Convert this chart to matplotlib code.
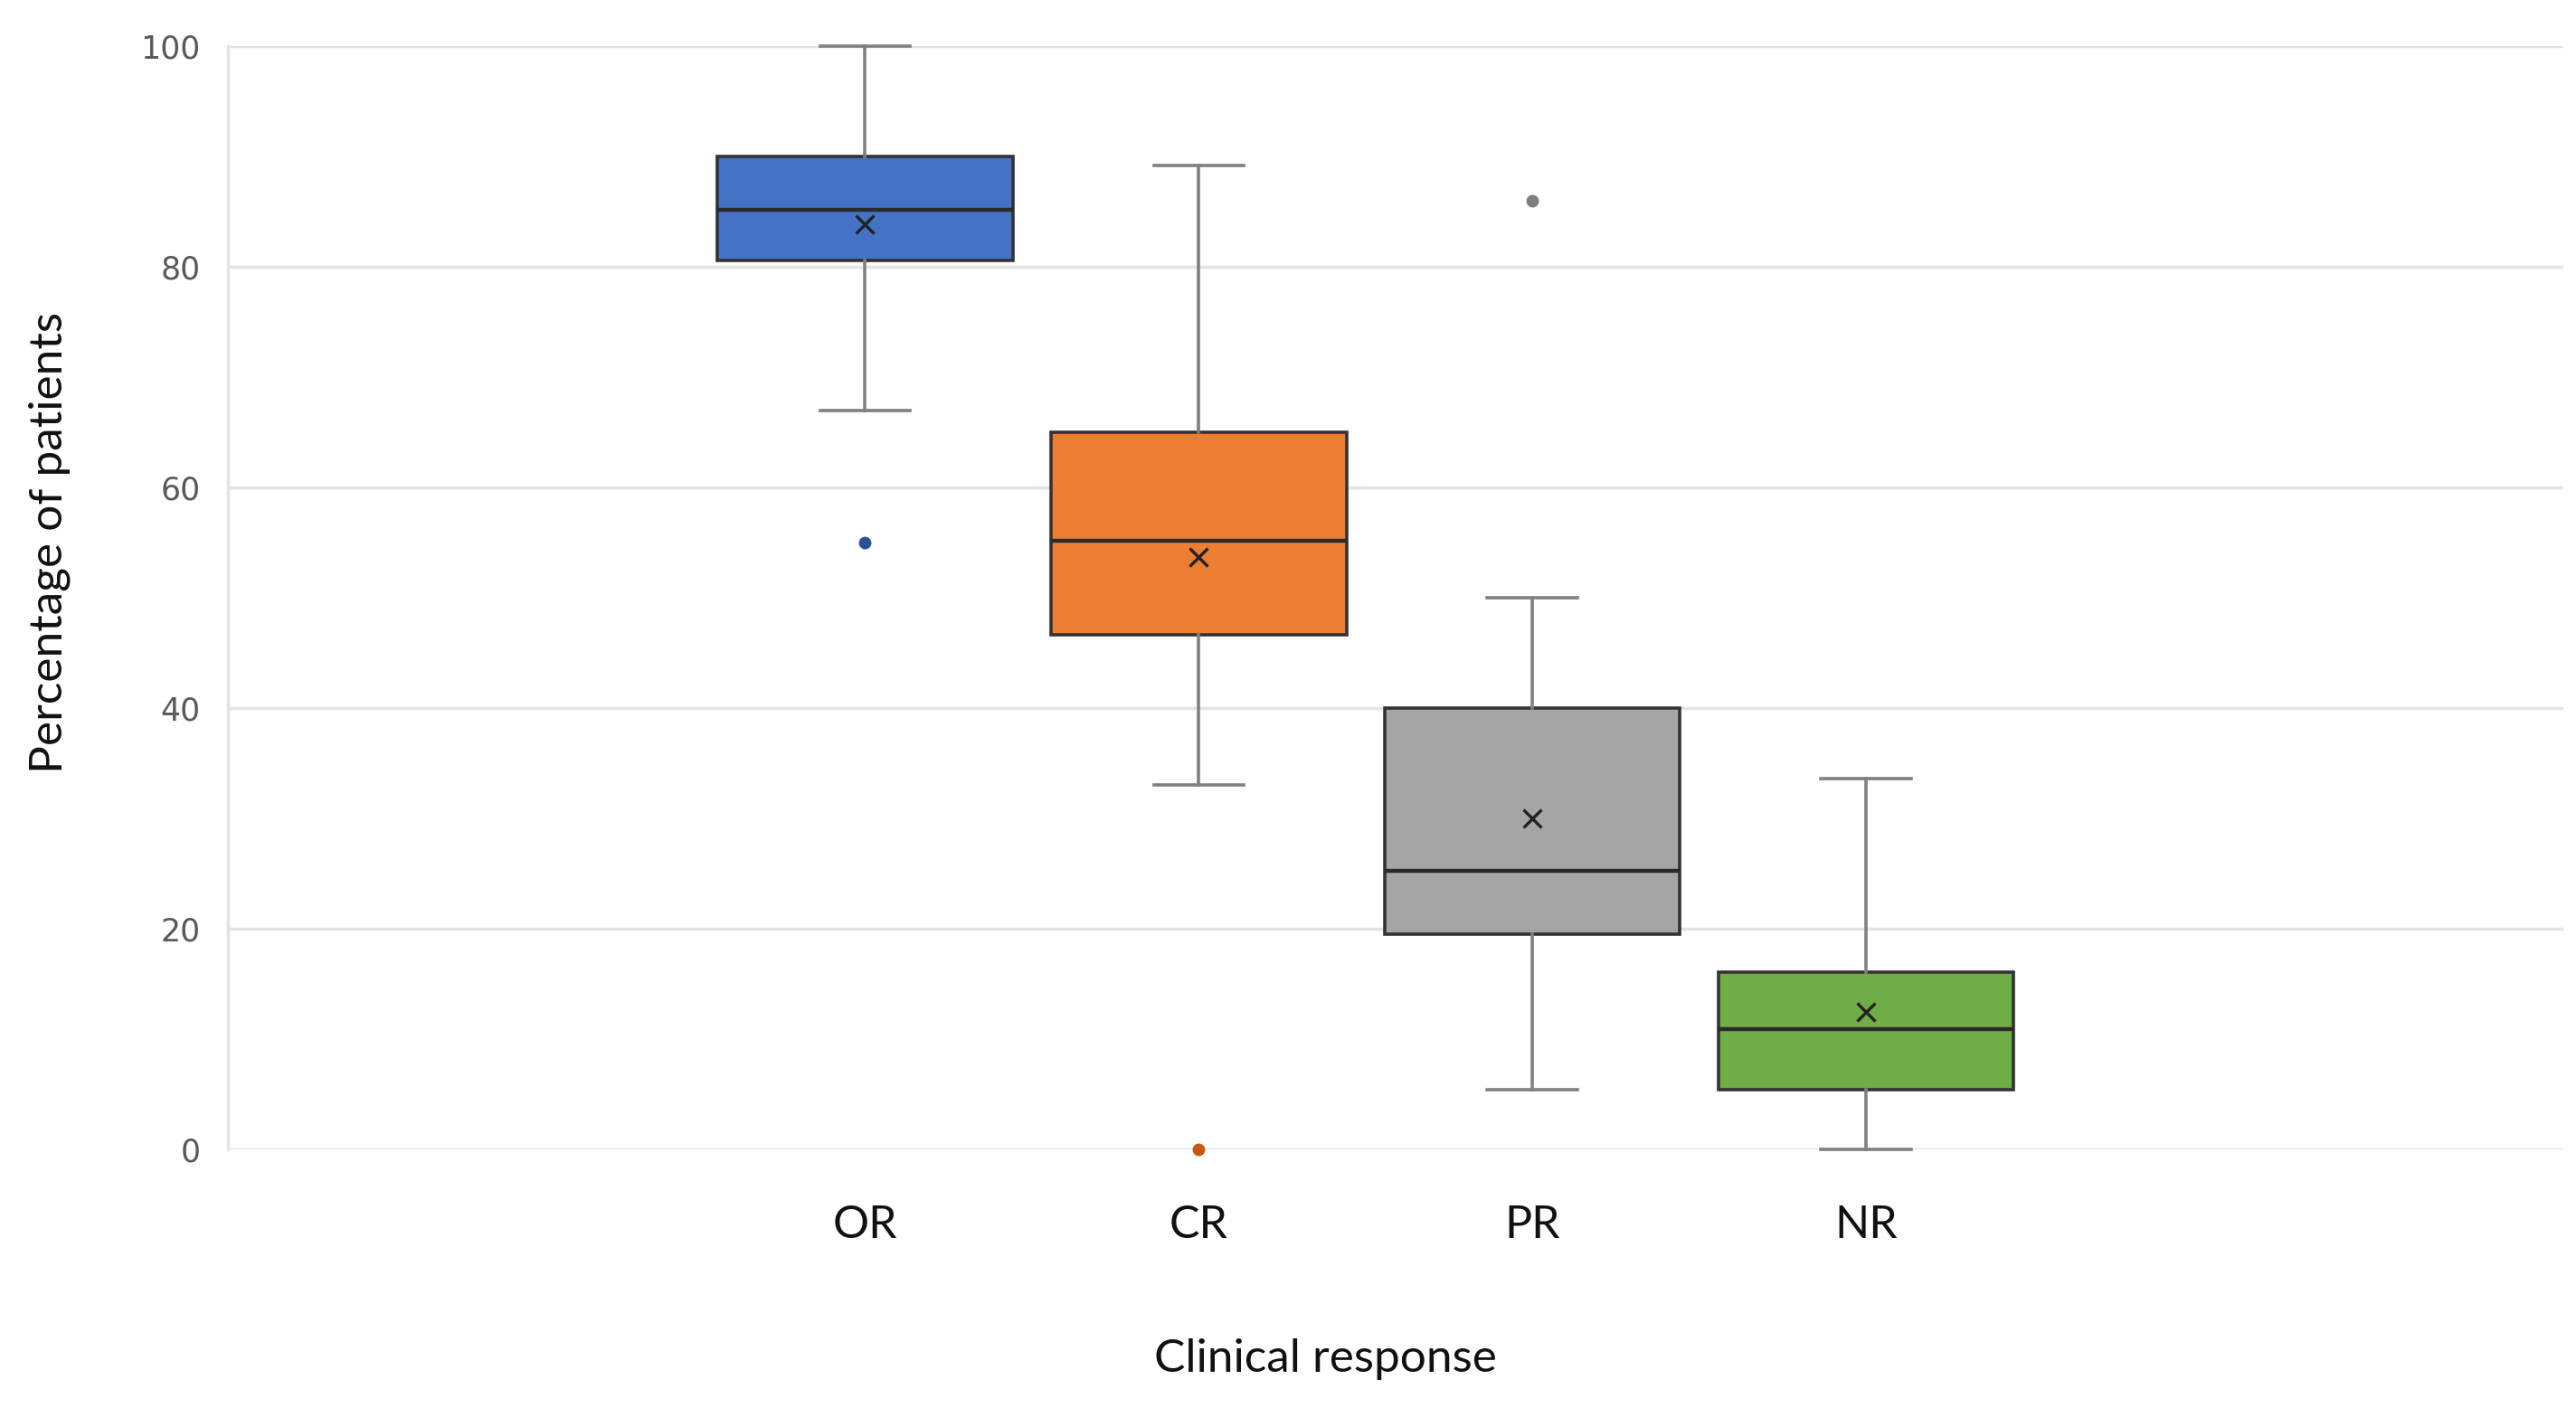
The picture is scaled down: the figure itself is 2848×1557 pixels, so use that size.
import matplotlib
matplotlib.use("Agg")
import matplotlib.pyplot as plt

categories = ["OR", "CR", "PR", "NR"]
whisker_low = [67.0, 33.0, 5.4, 0.0]
q1 = [80.6, 46.6, 19.5, 5.4]
median = [85.2, 55.2, 25.2, 10.9]
q3 = [90.0, 65.0, 40.0, 16.0]
whisker_high = [100.0, 89.2, 50.0, 33.6]
mean = [83.9, 53.7, 30.0, 12.4]
outliers = [[55.0], [0.0], [86.0], []]

fill_colors = ["#4472C4", "#ED7D31", "#A5A5A5", "#70AD47"]
outlier_colors = ["#2F528F", "#C55A11", "#7F7F7F", "#507E32"]
y_ticks = [0, 20, 40, 60, 80, 100]

fig = plt.figure(figsize=(28.48, 15.57), dpi=100)
ax = fig.add_axes([0.0885, 0.184, 0.9065, 0.783])

stats = []
for i, c in enumerate(categories):
    stats.append(dict(label=c, whislo=whisker_low[i], q1=q1[i], med=median[i],
                      q3=q3[i], whishi=whisker_high[i], mean=mean[i], fliers=outliers[i]))

positions = list(range(len(categories)))
bp = ax.bxp(stats, positions=positions, widths=0.885, patch_artist=True,
            showmeans=True, showfliers=True, capwidths=0.27,
            whiskerprops=dict(color="#808080", linewidth=2.6),
            capprops=dict(color="#808080", linewidth=2.6),
            medianprops=dict(linewidth=3.2),
            meanprops=dict(marker="x", markeredgecolor="#222222", markersize=15, markeredgewidth=2.4),
            zorder=3)

for i, box in enumerate(bp["boxes"]):
    box.set_facecolor(fill_colors[i])
    box.set_edgecolor("#333333")
    box.set_linewidth(2.6)
for med in bp["medians"]:
    med.set_color("#2a2a2a")
for i, fl in enumerate(bp["fliers"]):
    fl.set_marker("o")
    fl.set_markerfacecolor(outlier_colors[i])
    fl.set_markeredgecolor(outlier_colors[i])
    fl.set_markersize(9)
    fl.set_clip_on(False)
for art in bp["whiskers"] + bp["caps"] + bp["means"]:
    art.set_clip_on(False)

ax.set_xlim(-1.91, 5.09)
ax.set_ylim(0, 100)
ax.set_yticks(y_ticks)
ax.set_yticklabels([str(t) for t in y_ticks], fontsize=25, color="#595959", family="DejaVu Sans")
ax.set_xticks(positions)
ax.set_xticklabels(categories, fontsize=36, color="#111111", family=["Lato", "DejaVu Sans"])
ax.tick_params(axis="both", length=0)
ax.tick_params(axis="y", pad=22)
ax.tick_params(axis="x", pad=44)

ax.grid(axis="y", color="#E3E3E3", linewidth=2.5, zorder=0)
ax.set_axisbelow(True)
for s in ["top", "right", "bottom"]:
    ax.spines[s].set_visible(False)
ax.spines["left"].set_color("#E3E3E3")
ax.spines["left"].set_linewidth(2.5)

ax.set_xlabel("Clinical response", fontsize=37, family=["Lato", "DejaVu Sans"], color="#111111")
ax.set_ylabel("Percentage of patients", fontsize=37, family=["Lato", "DejaVu Sans"], color="#111111")
ax.xaxis.set_label_coords(0.47, -0.172)
ax.yaxis.set_label_coords(-0.0675, 0.55)

fig.savefig("out.png", dpi=100, facecolor="white")
